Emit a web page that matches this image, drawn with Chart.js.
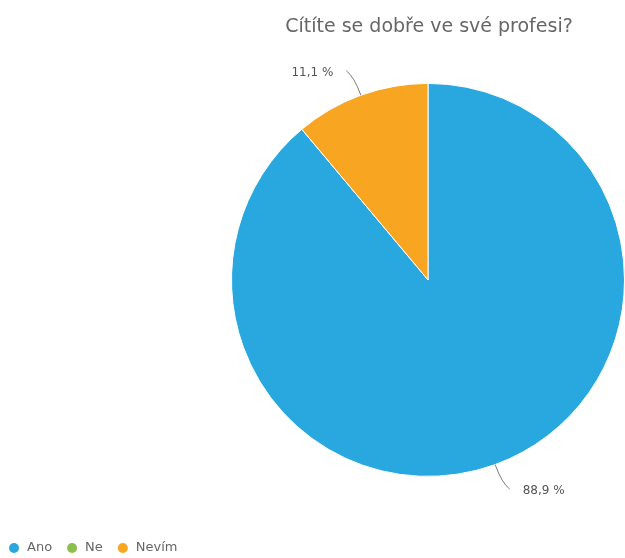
<!DOCTYPE html>
<html lang="cs">
<head>
<meta charset="utf-8">
<title>Cítíte se dobře ve své profesi?</title>
<script src="https://cdn.jsdelivr.net/npm/chart.js@4.4.1/dist/chart.umd.min.js"></script>
<style>
    html, body { margin: 0; padding: 0; background: #ffffff; }
    #graf-obal { width: 625px; height: 558px; position: relative; }
</style>
</head>
<body>
<div id="graf-obal"><canvas id="graf" width="625" height="558"></canvas></div>
<script>
const nadpis = "Cítíte se dobře ve své profesi?";
const odpovedi = ["Ano", "Ne", "Nevím"];
const procenta = [88.9, 0, 11.1];
const barvy = ["#29a8e0", "#8cbf4b", "#f8a621"];

const pismo = "DejaVu Sans";
Chart.defaults.font.family = pismo;

// popisky mimo koláč s vodicí čarou
const popiskyPlugin = {
    id: "popisky",
    afterDatasetsDraw(chart) {
        const ctx = chart.ctx;
        const meta = chart.getDatasetMeta(0);
        meta.data.forEach((arc, i) => {
            const hodnota = procenta[i];
            if (!hodnota) return;
            const { x, y, startAngle, endAngle, outerRadius } = arc.getProps(["x", "y", "startAngle", "endAngle", "outerRadius"], true);
            const uhel = (startAngle + endAngle) / 2;
            const dx = Math.cos(uhel), dy = Math.sin(uhel);
            const strana = dx >= 0 ? 1 : -1;
            const x0 = x + dx * outerRadius, y0 = y + dy * outerRadius;
            const cx = x + dx * (outerRadius + 20), cy = y + dy * (outerRadius + 20);
            const x1 = x + dx * (outerRadius + 22) + strana * 7, y1 = y + dy * (outerRadius + 26);

            ctx.save();
            ctx.strokeStyle = "#7a7a7a";
            ctx.lineWidth = 1;
            ctx.beginPath();
            ctx.moveTo(x0, y0);
            ctx.quadraticCurveTo(cx, cy, x1, y1);
            ctx.stroke();

            ctx.fillStyle = "#555555";
            ctx.font = "12px '" + pismo + "'";
            ctx.textBaseline = "middle";
            ctx.textAlign = strana > 0 ? "left" : "right";
            const text = hodnota.toLocaleString("cs-CZ", { minimumFractionDigits: 1 }) + " %";
            ctx.fillText(text, x1 + strana * 13, y1 + 2);
            ctx.restore();
        });
    }
};

// legenda vlevo dole
const legendaPlugin = {
    id: "legendaVlevo",
    afterDraw(chart) {
        const ctx = chart.ctx;
        ctx.save();
        ctx.font = "13px '" + pismo + "'";
        ctx.textBaseline = "middle";
        ctx.textAlign = "left";
        let xPos = 14;
        const yPos = 548;
        chart.data.labels.forEach((nazev, i) => {
            ctx.fillStyle = chart.data.datasets[0].backgroundColor[i];
            ctx.beginPath();
            ctx.arc(xPos, yPos, 5, 0, Math.PI * 2);
            ctx.fill();
            ctx.fillStyle = "#666666";
            ctx.fillText(nazev, xPos + 13, yPos);
            xPos += 13 + ctx.measureText(nazev).width + 20;
        });
        ctx.restore();
    }
};

new Chart(document.getElementById("graf"), {
    type: "pie",
    data: {
        labels: odpovedi,
        datasets: [{
            data: procenta,
            backgroundColor: barvy,
            borderColor: "#ffffff",
            borderWidth: 1
        }]
    },
    options: {
        responsive: false,
        animation: false,
        layout: { padding: { left: 231, right: -2, top: 0, bottom: 78 } },
        plugins: {
            legend: { display: false },
            tooltip: { enabled: false },
            title: {
                display: true,
                text: nadpis,
                color: "#666666",
                font: { family: pismo, size: 19, weight: "normal" },
                padding: { top: 16, bottom: 41 }
            }
        }
    },
    plugins: [popiskyPlugin, legendaPlugin]
});
</script>
</body>
</html>
